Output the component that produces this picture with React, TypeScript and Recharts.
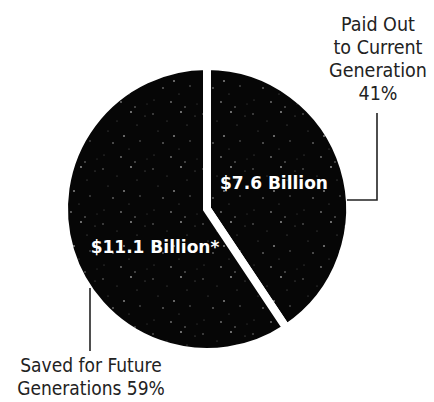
import React from "react";
import { PieChart, Pie, Cell } from "recharts";

const categories = ["Paid Out to Current Generation", "Saved for Future Generations"];
const values = [7.6, 11.1];
const amountLabels = ["$7.6 Billion", "$11.1 Billion*"];
const outerLabelLines = [
  ["Paid Out", "to Current", "Generation", "41%"],
  ["Saved for Future", "Generations 59%"],
];

const data = categories.map((name, i) => ({ name, value: values[i] }));

const specks: [number, number, number, number][] = [
  [3, 4, 0.7, 0.55], [17, 11, 0.5, 0.4], [31, 2, 0.9, 0.6], [8, 21, 0.6, 0.35],
  [24, 26, 1.0, 0.5], [37, 15, 0.5, 0.45], [13, 33, 0.8, 0.6], [29, 39, 0.6, 0.35],
  [40, 31, 0.7, 0.5], [4, 45, 0.5, 0.4], [21, 47, 0.9, 0.45], [47, 49, 0.5, 0.3],
  [45, 6, 0.6, 0.4], [35, 52, 0.8, 0.5],
];

const outerFont = "'DejaVu Sans Condensed', 'DejaVu Sans', sans-serif";

const renderLabel = (p: any) => {
  const { cx, cy, index } = p;
  const amount = (
    <text
      x={index === 0 ? cx + 67 : cx - 52}
      y={index === 0 ? cy - 26 : cy + 38}
      fill="#ffffff"
      fontFamily="'DejaVu Sans', sans-serif"
      fontWeight="bold"
      fontSize={17}
      textAnchor="middle"
      dominantBaseline="central"
    >
      {amountLabels[index]}
    </text>
  );
  if (index === 0) {
    return (
      <g>
        {amount}
        <polyline
          points={`${cx + 140},${cy - 9} ${cx + 170},${cy - 9} ${cx + 170},${cy - 96}`}
          stroke="#222"
          strokeWidth={1.6}
          fill="none"
        />
        {outerLabelLines[0].map((t, i) => (
          <text
            key={i}
            x={cx + 171}
            y={cy - 185 + i * 23}
            fill="#222"
            fontFamily={outerFont}
            fontSize={19.5}
            textAnchor="middle"
            dominantBaseline="central"
          >
            {t}
          </text>
        ))}
      </g>
    );
  }
  return (
    <g>
      {amount}
      <line x1={cx - 117} y1={cy + 79} x2={cx - 117} y2={cy + 142} stroke="#222" strokeWidth={1.6} />
      {outerLabelLines[1].map((t, i) => (
        <text
          key={i}
          x={cx - 116}
          y={cy + 156 + i * 22.5}
          fill="#222"
          fontFamily={outerFont}
          fontSize={19}
          textAnchor="middle"
          dominantBaseline="central"
        >
          {t}
        </text>
      ))}
    </g>
  );
};

export default function App() {
  return (
    <div style={{ position: "absolute", left: 0, top: 0, width: 434, height: 402, background: "#fff" }}>
      <svg width={0} height={0} style={{ position: "absolute" }}>
        <defs>
          <pattern id="speckle" patternUnits="userSpaceOnUse" width={50} height={55}>
            <rect width={50} height={55} fill="#060606" />
            {specks.map(([x, y, r, o], i) => (
              <circle key={i} cx={x} cy={y} r={r} fill="#fff" opacity={o} />
            ))}
          </pattern>
        </defs>
      </svg>
      <PieChart width={434} height={402} margin={{ top: 0, right: 0, bottom: 0, left: 0 }}>
        <Pie
          data={data}
          dataKey="value"
          nameKey="name"
          cx={207}
          cy={209}
          outerRadius={143}
          startAngle={90}
          endAngle={-270}
          stroke="#ffffff"
          strokeWidth={8}
          isAnimationActive={false}
          labelLine={false}
          label={renderLabel}
        >
          {data.map((d, i) => (
            <Cell key={i} fill="url(#speckle)" />
          ))}
        </Pie>
      </PieChart>
    </div>
  );
}
